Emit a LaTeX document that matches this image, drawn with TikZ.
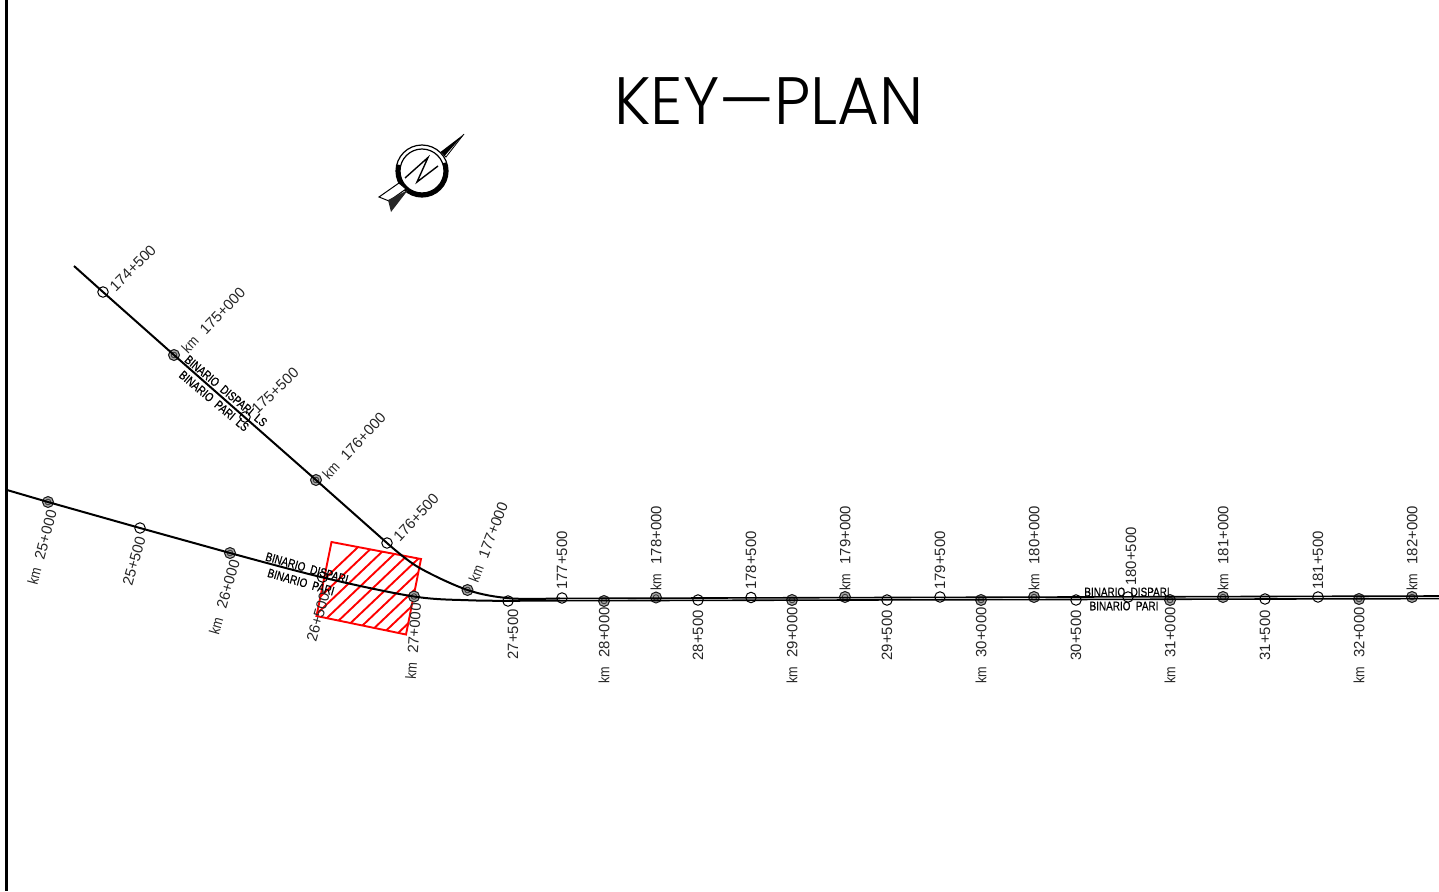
\documentclass[tikz,border=0pt]{standalone}
\usepackage{graphicx}
\usepackage{fontspec}
\setmainfont{Liberation Sans}
\newfontfamily\binfont[FakeBold=0.6]{Liberation Sans}
\newfontfamily\ttlfont{Poppins Light}
\newcommand{\kmtxt}[1]{\scalebox{.85}[1]{km}\hspace{9.5pt}#1}
\newcommand{\bintxt}[1]{\scalebox{.8}[1]{\binfont #1}}
\tikzset{
  lab/.style={inner sep=0pt,text=black!85,font=\fontsize{14.9}{15}\selectfont},
  binlab/.style={inner sep=0pt,font=\fontsize{12.4}{12.4}\selectfont},
  track/.style={draw=black,line width=2pt,line join=round},
  thintrack/.style={draw=black,line width=1.6pt},
  mkhalf/.style={circle,draw=black,line width=1pt,minimum size=10.5pt,inner sep=0pt},
  mkfull/.style={circle,draw=black!90,line width=1pt,fill=black!35,minimum size=11pt,inner sep=0pt,
    path picture={\draw[line width=.8pt,black!80] (path picture bounding box.center) circle (2.8pt);}},
  hatchred/.style={draw=red,line width=1.9pt},
}
\begin{document}
\begin{tikzpicture}[x=1pt,y=-1pt]
\useasboundingbox (0,0) rectangle (1439,891);
\fill[white] (0,0) rectangle (1439,891);
% frame
\coordinate (ft) at (6,0); \coordinate (fb) at (6,891);
\draw[line width=3pt] (ft) -- (fb);
% title
\node[inner sep=0pt,font=\ttlfont\fontsize{67}{67}\selectfont] (title) at (769,101)
  {\scalebox{.96}[1]{KEY—PLAN}};
% named way points
\coordinate (us) at (74,266);
\coordinate (uc1) at (418,567);
\coordinate (uc2) at (510,598.3);
\coordinate (uc3) at (560,598.4);
\coordinate (ue) at (1439,596);
\coordinate (ls) at (7,490);
\coordinate (lc1) at (325,578);
\coordinate (lc2) at (470,600.3);
\coordinate (lc3) at (520,600.8);
\coordinate (le) at (1439,598.6);
% red box
\coordinate (ra) at (331.5,542); \coordinate (rb) at (421,559);
\coordinate (rc) at (406,634.5); \coordinate (rd) at (316.5,616);
\begin{scope}
  \clip (ra) -- (rb) -- (rc) -- (rd) -- cycle;
  \foreach \k in {-4,...,7}
    \draw[hatchred] ({340+14.5*\k-45},{619.3+42.75}) -- ({340+14.5*\k+110},{619.3-104.5});
\end{scope}
\draw[hatchred,line join=miter] (ra) -- (rb) -- (rc) -- (rd) -- cycle;
% tracks way markers
\foreach \n/\x/\y in {u1/103/292,u3/245/417,u5/387/543,d1/140/528,d3/322.5/577,
  r1/508/601,r2/562/598,r3/698/600,r4/751/597.5,r5/887/600,r6/940/597,r7/1076/600,
  r8/1128/597,r9/1265/599,r10/1318/597}
  \node[mkhalf] (m\n) at (\x,\y) {};
\foreach \n/\x/\y in {u2/174/355,u4/316/480,u6/467.5/590,d0/48/502,d2/230/553,d4/414/596.5,
  f1/604/601,f2/656/597.5,f3/792/600,f4/845/597,f5/981/600,f6/1034/597,f7/1170/600,
  f8/1223/597,f9/1359/599,f10/1412/597}
  \node[mkfull] (m\n) at (\x,\y) {};
% tracks
\draw[track] (us) -- (mu1.center) -- (mu2.center) -- (mu4.center) -- (mu5.center)
  plot[smooth,tension=.55] coordinates {(mu5.center) (uc1) (mu6.center) (uc2) (uc3)};
\draw[thintrack] (uc3) -- (ue);
\draw[track] (ls) -- (md0.center) -- (md1.center) -- (md2.center)
  plot[smooth,tension=.55] coordinates {(md2.center) (lc1) (md4.center) (lc2) (lc3)};
\draw[thintrack] (lc3) -- (le);
% labels: upward, start at given point
\foreach \n/\x/\y/\r/\t in {
  a1/112/289/45/174+500,
  a3/254/411/44/175+500,
  a5/396/539/47/176+500,
  a7/562/590/90/177+500,
  a9/751/590/90/178+500,
  a11/940/590/90/179+500,
  a13/1131/586/90/180+500,
  a15/1318/590/90/181+500}
  \node[lab,anchor=west,rotate=\r] (\n) at (\x,\y) {\t};
\foreach \n/\x/\y/\r/\t in {
  a2/184/351/46.5/175+000,
  a4/325/477/47/176+000,
  a6/473/582/69/177+000,
  a8/656/591/90/178+000,
  a10/845/591/90/179+000,
  a12/1034/591/90/180+000,
  a14/1223/591/90/181+000,
  a16/1412/591/90/182+000}
  \node[lab,anchor=west,rotate=\r] (\n) at (\x,\y) {\kmtxt{\t}};
% labels: below the track, end at given point
\foreach \n/\x/\y/\r/\t in {
  b1/141/537/74/25+500,
  b3/325/593/74/26+500,
  b5/513/609/90/27+500,
  b7/698/610/90/28+500,
  b9/887/610/90/29+500,
  b11/1076/610/90/30+500,
  b13/1265/610/90/31+500}
  \node[lab,anchor=east,rotate=\r] (\n) at (\x,\y) {\t};
\foreach \n/\x/\y/\r/\t in {
  b0/52/510/75/25+000,
  b2/235/560/74/26+000,
  b4/416/603/86/27+000,
  b6/604/607/90/28+000,
  b8/792/607/90/29+000,
  b10/981/607/90/30+000,
  b12/1170/607/90/31+000,
  b14/1359/607/90/32+000}
  \node[lab,anchor=east,rotate=\r] (\n) at (\x,\y) {\kmtxt{\t}};
% track names
\node[binlab,rotate=-40] (n1) at (226,391) {\bintxt{BINARIO\ \ DISPARI\ \ LS}};
\node[binlab,rotate=-40] (n2) at (214,401) {\bintxt{BINARIO\ \ PARI\ \ LS}};
\node[binlab,rotate=-16] (n3) at (307,568) {\bintxt{BINARIO\ \ DISPARI}};
\node[binlab,rotate=-16] (n4) at (301,582) {\bintxt{BINARIO\ \ PARI}};
\node[binlab] (n5) at (1127,592) {\bintxt{BINARIO\ \ DISPARI}};
\node[binlab] (n6) at (1124,606) {\bintxt{BINARIO\ \ PARI}};
% north arrow
\coordinate (nc) at (422,171);
\draw[line width=1.2pt] (nc) circle (26);
\draw[line width=1.2pt] (nc) circle (22);
\draw[line width=3.8pt] (nc) ++(-20:24) arc[start angle=-20,end angle=195,radius=24];
% needle
\fill[black] (464,134) -- (440.5,152) -- (444.5,156) -- cycle;
\draw[line width=.8pt] (464,134) -- (446,157) -- (444,155);
% tail
\filldraw[fill=white,draw=black,line width=1pt] (379,197) -- (399,183) -- (406,189) -- (389,201) -- cycle;
\fill[black!85] (388,200) -- (391,212) -- (408,190) -- cycle;
% N
\draw[line width=1.4pt,line join=miter] (405,178) -- (428,157.5) -- (417,182) -- (438,166);
\end{tikzpicture}
\end{document}
